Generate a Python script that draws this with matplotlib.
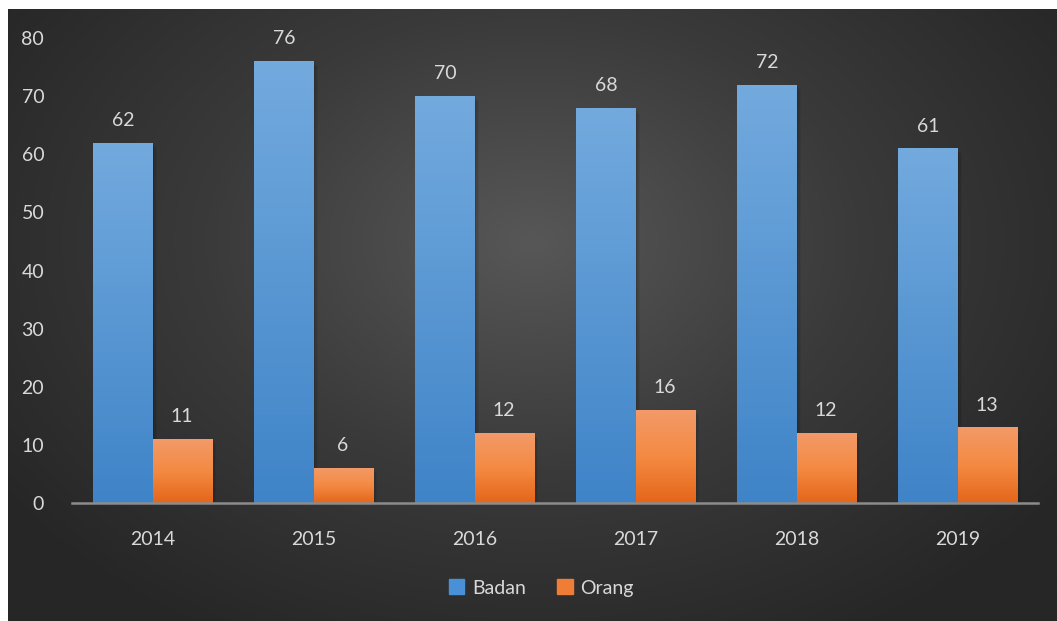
import numpy as np
import matplotlib.pyplot as plt
from matplotlib.colors import LinearSegmentedColormap

years = ["2014", "2015", "2016", "2017", "2018", "2019"]
badan = [62, 76, 70, 68, 72, 61]
orang = [11, 6, 12, 16, 12, 13]

plt.rcParams['font.family'] = ['Lato', 'DejaVu Sans']
txt = "#d9d9d9"

fig = plt.figure(figsize=(10.57, 6.21), dpi=100)
fig.patch.set_facecolor("white")

# dark radial background
bg = fig.add_axes([8 / 1057, 0, 1 - 8 / 1057, 1 - 9 / 621])
bg.set_axis_off()
yy, xx = np.mgrid[0:1:300j, 0:1:500j]
r = np.sqrt(((xx - 0.5) / 0.62) ** 2 + ((yy - 0.62) / 0.75) ** 2)
r = np.clip(r, 0, 1)
bgcmap = LinearSegmentedColormap.from_list("bg", ["#575757", "#3a3a3a", "#262626"])
bg.imshow(r, cmap=bgcmap, aspect="auto", extent=[0, 1, 0, 1], origin="lower")

ax = fig.add_axes([72 / 1057, 118 / 621, 966 / 1057, 465 / 621])
ax.patch.set_alpha(0)
x = np.arange(len(years))
w = 0.367

blue = LinearSegmentedColormap.from_list("b", ["#3f84c8", "#73aade"])
orng = LinearSegmentedColormap.from_list("o", ["#e4661a", "#f48a42", "#f29a68"])
grad = np.linspace(0, 1, 100).reshape(-1, 1)

b1 = ax.bar(x - w / 2, badan, w, color="none", zorder=3)
b2 = ax.bar(x + w / 2, orang, w, color="none", zorder=3)

for bars, cm in ((b1, blue), (b2, orng)):
    for p in bars:
        x0, y0 = p.get_x(), p.get_y()
        bw, bh = p.get_width(), p.get_height()
        # soft shadow, mostly to the right
        for k, a in enumerate([0.10, 0.07, 0.05]):
            d = 0.01 * (k + 1)
            ax.add_patch(plt.Rectangle((x0, y0), bw + d, bh - 0.3 * (k + 1),
                                       color="black", alpha=a, lw=0, zorder=2))
        im = ax.imshow(grad, cmap=cm, aspect="auto", origin="lower",
                       extent=[x0, x0 + bw, y0, y0 + bh], zorder=3)
        im.set_clip_path(p)

for bars in (b1, b2):
    ax.bar_label(bars, padding=10, color=txt, fontsize=14)

ax.set_xlim(-0.5, len(years) - 0.5)
ax.set_ylim(0, 80)
ax.set_yticks(range(0, 81, 10))
ax.set_xticks(x)
ax.set_xticklabels(years)
ax.tick_params(axis="y", length=0, pad=20, labelcolor=txt, labelsize=14)
ax.tick_params(axis="x", length=0, pad=20, labelcolor=txt, labelsize=14)
for s in ["top", "right", "left"]:
    ax.spines[s].set_visible(False)
ax.spines["bottom"].set_color("#8c8c8c")
ax.spines["bottom"].set_linewidth(1.8)
ax.spines["bottom"].set_zorder(4)

h1 = plt.Rectangle((0, 0), 1, 1, color="#4a90d6")
h2 = plt.Rectangle((0, 0), 1, 1, color="#f07d35")
fig.legend([h1, h2], ["Badan", "Orang"], loc="center", bbox_to_anchor=(0.512, 0.053),
           ncol=2, frameon=False, fontsize=14, labelcolor=txt,
           handlelength=0.8, handleheight=0.8, handletextpad=0.4, columnspacing=1.6)

fig.savefig("out.png", dpi=100, facecolor=fig.get_facecolor())
